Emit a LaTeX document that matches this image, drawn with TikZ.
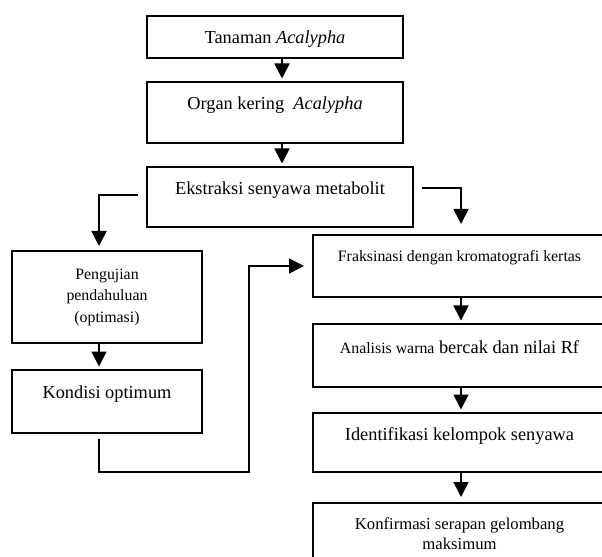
\documentclass[tikz,border=0pt]{standalone}
\usepackage{fontspec}
\setmainfont{Liberation Serif}
\usetikzlibrary{positioning,arrows.meta}

\begin{document}
\begin{tikzpicture}[x=0.6pt,y=-0.6pt,>={Triangle[length=9pt,width=9pt]}]
  \tikzstyle{box}=[draw,line width=1.2pt,align=center,inner sep=0pt,font=\fontsize{11}{13}\selectfont]
  \tikzstyle{small}=[font=\fontsize{9.5}{12.9}\selectfont]
  \tikzstyle{top}=[text height=8pt]
  \tikzstyle{link}=[line width=1pt,->,shorten >=1.5pt]
  \useasboundingbox (0,0) rectangle (602,557);

  \node[box,top,text depth=0pt,minimum width=153.6pt,minimum height=25.2pt]    (tan) at (275,37)    {Tanaman \textit{Acalypha}};
  \node[box,top,text depth=11pt,minimum width=153.6pt,minimum height=36.6pt]   (org) at (275,112.5) {Organ kering\ \ \textit{Acalypha}};
  \node[box,top,text depth=10.4pt,minimum width=159.6pt,minimum height=36pt]   (eks) at (280,197)   {Ekstraksi senyawa metabolit};
  \node[box,small,minimum width=114pt,minimum height=55.2pt]                   (uji) at (107,297)   {Pengujian\\pendahuluan\\(optimasi)};
  \node[box,top,text depth=12.2pt,minimum width=114pt,minimum height=37.8pt]   (opt) at (107,401.5) {Kondisi optimum};
  \node[box,small,text height=7pt,text depth=12.6pt,minimum width=175.8pt,minimum height=37.2pt] (fra) at (459.5,266) {Fraksinasi dengan kromatografi kertas};
  \node[box,top,text depth=11pt,minimum width=175.8pt,minimum height=37.8pt]   (ana) at (459.5,355.5) {{\fontsize{9.5}{12}\selectfont Analisis warna} bercak dan nilai Rf};
  \node[box,top,text depth=11pt,minimum width=175.8pt,minimum height=35.4pt]   (ide) at (459.5,442.5) {Identifikasi kelompok senyawa};
  \node[box,font=\fontsize{10}{12}\selectfont,minimum width=175.8pt,minimum height=37.2pt] (kon) at (459.5,534) {Konfirmasi serapan gelombang\\maksimum};

  % arah garis
  \coordinate (c_l) at (99,0);
  \coordinate (c_m) at (282,0);
  \coordinate (c_r) at (461,0);
  \coordinate (e_l) at (138,195);
  \coordinate (e_r) at (422,188);
  \coordinate (b_1) at (249,472);

  \draw[link] (tan.south -| c_m) -- (org.north -| c_m);
  \draw[link] (org.south -| c_m) -- (eks.north -| c_m);
  \draw[link,shorten >=2.4pt] (e_l) -| (uji.north -| c_l);
  \draw[link,shorten >=6pt] (e_r) -| (fra.north -| c_r);
  \draw[link] (uji.south -| c_l) -- (opt.north -| c_l);
  \draw[link,shorten <=3pt,shorten >=4.8pt] (opt.south -| c_l) |- (b_1) |- (fra.west);
  \draw[link] (fra.south -| c_r) -- (ana.north -| c_r);
  \draw[link] (ana.south -| c_r) -- (ide.north -| c_r);
  \draw[link,shorten >=3pt] (ide.south -| c_r) -- (kon.north -| c_r);
\end{tikzpicture}
\end{document}
